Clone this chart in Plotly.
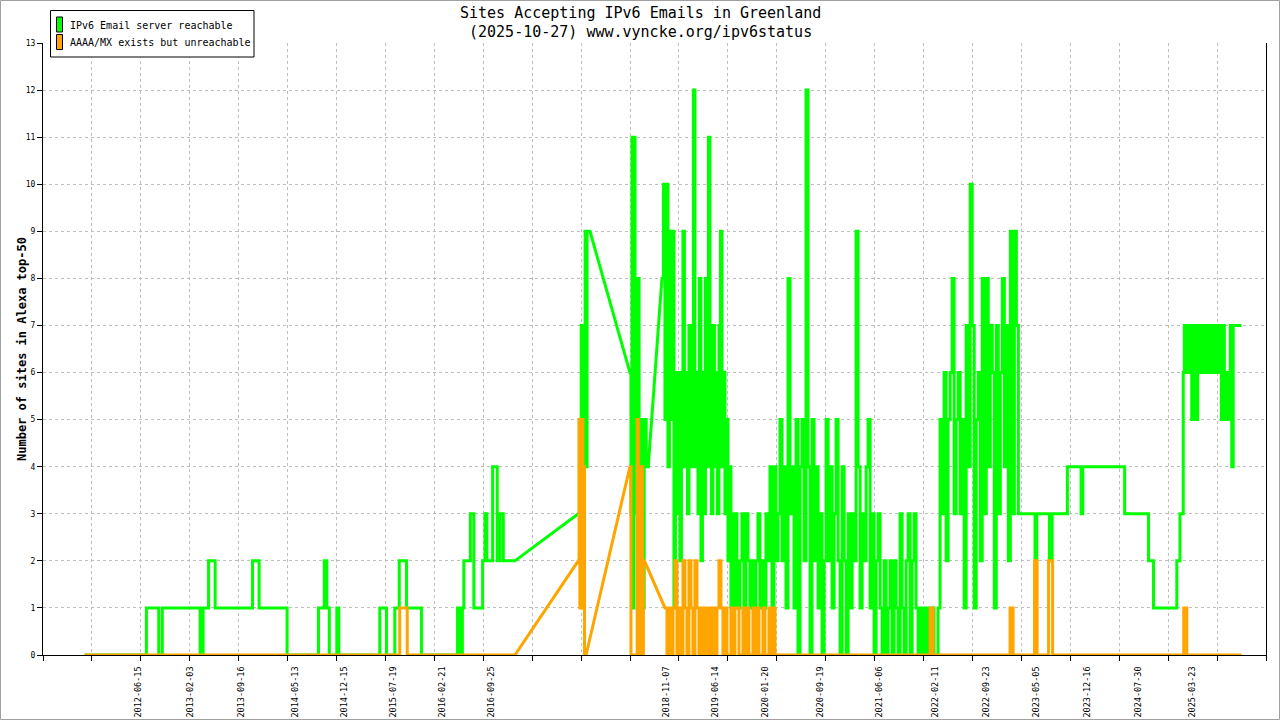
import datetime as dt
import plotly.graph_objects as go

# ---- data ----
series_names = ["IPv6 Email server reachable", "AAAA/MX exists but unreachable"]
series_colors = ["#00ff00", "#ffa500"]
title_lines = ["Sites Accepting IPv6 Emails in Greenland",
               "(2025-10-27) www.vyncke.org/ipv6status"]

tick_dates = ["2012-06-15", "2013-02-03", "2013-09-16", "2014-05-13", "2014-12-15",
              "2015-07-19", "2016-02-21", "2016-09-25", "2018-11-07", "2019-06-14",
              "2020-01-20", "2020-09-19", "2021-06-06", "2022-02-11", "2022-09-23",
              "2023-05-05", "2023-12-16", "2024-07-30", "2025-03-23"]

# x values are decimal years; "steps" are change points, "bursts" are evenly sampled runs
green_steps_1_x = [2011.807, 2012.555, 2012.704, 2012.747, 2013.205, 2013.241, 2013.307,
                   2013.387, 2013.840, 2013.920, 2014.259, 2014.640, 2014.710, 2014.741,
                   2014.771, 2014.862, 2014.886, 2015.383, 2015.464, 2015.565, 2015.619,
                   2015.707, 2015.888, 2016.325, 2016.341, 2016.353, 2016.371, 2016.383,
                   2016.401, 2016.480, 2016.522, 2016.628, 2016.656, 2016.680, 2016.749,
                   2016.805, 2016.838, 2016.878, 2017.019]
green_steps_1_y = [0, 1, 0, 1, 0, 1, 2, 1, 2, 1, 0, 1, 2, 1, 0, 1, 0, 1, 0, 1,
                   2, 1, 0, 1, 0, 1, 0, 1, 2, 3, 1, 2, 3, 2, 4, 2, 3, 2, 2]

green_burst_1_span = (2017.787, 2017.929)
green_burst_1 = [3, 5, 3, 7, 4, 6, 4, 9, 4, 9, 9, 9]

green_burst_2_span = (2018.413, 2018.635)
green_burst_2 = [6, 3, 11, 1, 11, 4, 8, 3, 8, 4, 3, 1, 5, 1, 4, 5, 4, 4]

green_burst_3_span = (2018.801, 2019.747)
green_burst_3 = [8, 10, 5, 10, 4, 9, 5, 9, 1, 6, 3, 6, 2, 5, 9, 4, 6, 3, 7, 4,
                 6, 12, 4, 6, 3, 8, 2, 6, 3, 8, 4, 11, 5, 3, 7, 4, 6, 3, 7, 9,
                 4, 6, 3, 5, 2, 4, 1, 3, 1, 3, 2, 1]

green_burst_4_span = (2019.747, 2022.122)
green_burst_4 = [2, 3, 1, 3, 2, 1, 2, 0, 2, 3, 1, 2, 1, 3, 2, 4, 1, 4, 2, 3,
                 5, 2, 4, 1, 8, 3, 4, 1, 5, 0, 4, 5, 2, 12, 4, 0, 5, 2, 4, 1,
                 3, 0, 2, 5, 2, 4, 1, 3, 5, 2, 0, 4, 2, 0, 3, 1, 3, 2, 9, 4,
                 1, 3, 2, 4, 5, 1, 3, 0, 2, 3, 1, 0, 2, 0, 1, 2, 0, 2, 1, 0,
                 3, 1, 0, 2, 3, 0, 2, 3, 1, 0, 1, 0, 1, 0, 1, 0, 1, 0]

green_burst_5_span = (2022.122, 2023.120)
green_burst_5 = [0, 1, 5, 3, 6, 2, 5, 6, 8, 3, 5, 6, 3, 5, 1, 7, 4, 10, 7, 1,
                 5, 6, 2, 8, 3, 8, 4, 7, 6, 1, 7, 3, 6, 8, 4, 7, 2, 9, 3, 9, 7]

green_steps_2_x = [2023.120, 2023.322, 2023.343, 2023.496, 2023.529, 2023.714, 2023.880,
                   2023.901, 2024.407, 2024.696, 2024.756, 2025.038, 2025.076, 2025.116]
green_steps_2_y = [3, 2, 3, 2, 3, 4, 3, 4, 3, 2, 1, 2, 3, 6]

green_burst_6_span = (2025.129, 2025.722)
green_burst_6 = [7, 6, 7, 6, 7, 5, 7, 6, 5, 7, 6, 7, 6, 7, 6, 7, 7, 6, 7, 6,
                 7, 6, 7, 6, 7, 5, 7, 6, 5, 6, 5, 7, 4]

green_steps_3_x = [2025.722, 2025.822]
green_steps_3_y = [7, 7]

orange_steps_1_x = [2011.807, 2015.625, 2015.716, 2017.019]
orange_steps_1_y = [0, 1, 0, 0]

orange_burst_1_span = (2017.787, 2017.881)
orange_burst_1 = [2, 5, 1, 4, 2, 5, 1, 4, 0, 0]

orange_burst_2_span = (2018.413, 2018.589)
orange_burst_2 = [4, 0, 0, 0, 0, 0, 0, 5, 0, 4, 0, 4, 0, 2]

orange_burst_3_span = (2018.838, 2020.244)
orange_burst_3 = [1, 0, 1, 0, 1, 2, 0, 1, 0, 2, 1, 0, 2, 1, 0, 2, 1, 0, 1, 0,
                  1, 0, 1, 0, 1, 0, 1, 2, 1, 0, 1, 0, 0, 1, 0, 1, 1, 0, 0, 1,
                  0, 1, 0, 0, 1, 0, 1, 0, 0, 1, 0, 0, 1, 0, 1, 0, 0, 0]

orange_steps_2_x = [2020.244, 2022.050, 2022.086, 2023.019, 2023.056, 2023.316, 2023.347,
                    2023.486, 2023.535, 2025.122, 2025.159, 2025.822]
orange_steps_2_y = [0, 1, 0, 1, 0, 2, 0, 2, 0, 1, 0, 0]


def to_date(y):
    year = int(y)
    start = dt.datetime(year, 1, 1)
    return start + (dt.datetime(year + 1, 1, 1) - start) * (y - year)


def burst(span, vals):
    a, b = span
    step = (b - a) / len(vals)
    xs = [a + i * step for i in range(len(vals))] + [b]
    return xs, list(vals) + [vals[-1]]


def join(*parts):
    xs, ys = [], []
    for px, py in parts:
        xs += list(px)
        ys += list(py)
    return xs, ys


def step_line(segments):
    # steps inside a segment, straight lines across the gaps between segments
    xs, ys = [], []
    for px, py in segments:
        for i in range(len(px)):
            if i > 0:
                xs.append(to_date(px[i]))
                ys.append(py[i - 1])
            xs.append(to_date(px[i]))
            ys.append(py[i])
    return xs, ys


green = step_line([
    (green_steps_1_x, green_steps_1_y),
    burst(green_burst_1_span, green_burst_1),
    burst(green_burst_2_span, green_burst_2),
    join(burst(green_burst_3_span, green_burst_3),
         burst(green_burst_4_span, green_burst_4),
         burst(green_burst_5_span, green_burst_5),
         (green_steps_2_x, green_steps_2_y),
         burst(green_burst_6_span, green_burst_6),
         (green_steps_3_x, green_steps_3_y)),
])
orange = step_line([
    (orange_steps_1_x, orange_steps_1_y),
    burst(orange_burst_1_span, orange_burst_1),
    burst(orange_burst_2_span, orange_burst_2),
    join(burst(orange_burst_3_span, orange_burst_3),
         (orange_steps_2_x, orange_steps_2_y)),
])

# ---- figure ----
W, H = 1280, 720
L, R, T, B = 43, 14, 43, 65
PW, PH = W - L - R, H - T - B
FONT = "DejaVu Sans Mono"


def fx(p):
    return (p - L) / PW


def fy(p):
    return (H - B - p) / PH


fig = go.Figure()
for (xs, ys), name, color in zip([green, orange], series_names, series_colors):
    fig.add_trace(go.Scatter(x=xs, y=ys, mode="lines", name=name,
                             line=dict(color=color, width=3), cliponaxis=False,
                             hoverinfo="skip"))

x_start = dt.datetime(2011, 4, 21, 10)
x_end = dt.datetime(2026, 2, 13, 14)
minor_step = (x_end - x_start).total_seconds() * 1000 / 25

fig.update_xaxes(type="date", range=[x_start, x_end], automargin=False,
                 tickmode="array", tickvals=tick_dates, ticktext=tick_dates,
                 tickangle=-90, ticks="", showgrid=False, zeroline=False,
                 showline=True, linecolor="black", linewidth=1,
                 tickfont=dict(family=FONT, size=8.5, color="black"),
                 ticklabelstandoff=7, layer="below traces",
                 minor=dict(tick0=x_start, dtick=minor_step, ticks="outside",
                            ticklen=5, tickcolor="black", showgrid=True,
                            gridcolor="#bdbdbd", griddash="dot", gridwidth=1))
fig.update_yaxes(range=[0, 13], tick0=0, dtick=1, ticks="outside", ticklen=5,
                 automargin=False,
                 tickcolor="black", showline=True, linecolor="black", linewidth=1,
                 mirror=True, showgrid=True, gridcolor="#bdbdbd", griddash="dot",
                 zeroline=False, tickfont=dict(family=FONT, size=8, color="black"),
                 layer="below traces")

shapes = [
    dict(type="rect", xref="paper", yref="paper", x0=fx(0.5), x1=fx(W - 0.5),
         y0=fy(0.5), y1=fy(H - 0.5), line=dict(color="#a0a0a0", width=1)),
    dict(type="rect", xref="paper", yref="paper", x0=fx(50.5), x1=fx(254),
         y0=fy(10.5), y1=fy(57), fillcolor="white", layer="above",
         line=dict(color="black", width=1)),
]
annotations = [
    dict(text="<b>Number of sites in Alexa top-50</b>", xref="paper", yref="paper",
         x=fx(13), y=0.5, textangle=-90, showarrow=False,
         font=dict(family=FONT, size=12, color="black")),
]
for i, line in enumerate(title_lines):
    annotations.append(dict(text=line, xref="paper", yref="paper", x=fx(W / 2),
                            y=fy(13 + 19 * i), xanchor="center", yanchor="middle",
                            showarrow=False,
                            font=dict(family=FONT, size=15, color="black")))
for i, (name, color) in enumerate(zip(series_names, series_colors)):
    top = 17 + i * 17.5
    shapes.append(dict(type="rect", xref="paper", yref="paper", x0=fx(56.5), x1=fx(62.5),
                       y0=fy(top), y1=fy(top + 15), fillcolor=color, layer="above",
                       line=dict(color="black", width=1)))
    annotations.append(dict(text=name, xref="paper", yref="paper", x=fx(68),
                            y=fy(top + 8), xanchor="left", yanchor="middle",
                            showarrow=False,
                            font=dict(family=FONT, size=10, color="black")))

fig.update_layout(
    width=W, height=H, margin=dict(l=L, r=R, t=T, b=B),
    paper_bgcolor="white", plot_bgcolor="white", showlegend=False,
    shapes=shapes, annotations=annotations,
)

fig.write_html("out.html", config={"displayModeBar": False},
               post_script="document.body.style.margin='0';")
